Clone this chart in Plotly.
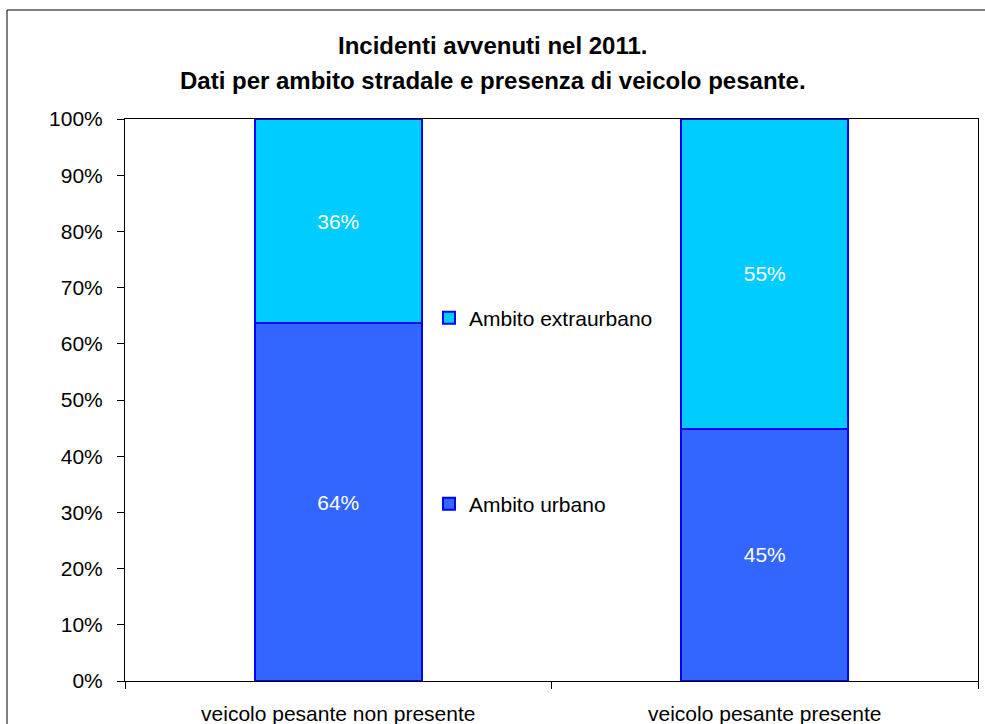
import plotly.graph_objects as go

categories = ["veicolo pesante non presente", "veicolo pesante presente"]
urbano = [63.65, 44.9]
extraurbano = [36.35, 55.1]
series_names = ["Ambito urbano", "Ambito extraurbano"]
y_ticks = list(range(0, 101, 10))
y_tick_labels = ["%d%%" % v for v in y_ticks]
title_lines = ["Incidenti avvenuti nel 2011.", "Dati per ambito stradale e presenza di veicolo pesante."]

FONT = "Liberation Sans, Arial, sans-serif"
W, H = 985, 724
L, R, T, B = 125, 7, 119, 43
pw, ph = W - L - R, H - T - B

def px(x):
    return (x - L) / pw

def py(y):
    return (H - B - y) / ph

fig = go.Figure()
fig.add_trace(go.Bar(
    x=categories, y=urbano, name=series_names[0],
    marker=dict(color="#3366FF", line=dict(color="#0000FF", width=2)),
    texttemplate="%{y:.0f}%", textposition="inside", insidetextanchor="middle",
    textangle=0, textfont=dict(color="white", size=21, family=FONT),
    legend="legend2", hoverinfo="skip",
))
fig.add_trace(go.Bar(
    x=categories, y=extraurbano, name=series_names[1],
    marker=dict(color="#00CCFF", line=dict(color="#0000FF", width=2)),
    texttemplate="%{y:.0f}%", textposition="inside", insidetextanchor="middle",
    textangle=0, textfont=dict(color="white", size=21, family=FONT),
    legend="legend", hoverinfo="skip",
))

fig.update_layout(
    width=W, height=H,
    margin=dict(l=L, r=R, t=T, b=B, pad=0, autoexpand=False),
    paper_bgcolor="white", plot_bgcolor="white",
    barmode="stack", bargap=0.608,
    font=dict(family=FONT, size=21, color="black"),
    legend=dict(x=px(429), y=py(318), xanchor="left", yanchor="middle",
                bgcolor="rgba(0,0,0,0)", font=dict(size=21, family=FONT)),
    legend2=dict(x=px(429), y=py(504), xanchor="left", yanchor="middle",
                 bgcolor="rgba(0,0,0,0)", font=dict(size=21, family=FONT)),
    showlegend=True,
)

fig.update_yaxes(
    range=[0, 100], tickmode="array", tickvals=y_ticks, ticktext=y_tick_labels,
    showgrid=False, zeroline=False, automargin=False,
    showline=True, linecolor="black", linewidth=1, mirror=True,
    ticks="outside", ticklen=7, tickcolor="black", tickwidth=1,
    ticklabelstandoff=10,
    tickfont=dict(size=21, family=FONT, color="black"),
)
fig.update_xaxes(
    showgrid=False, zeroline=False, automargin=False,
    showline=True, linecolor="black", linewidth=1, mirror=True,
    ticks="outside", ticklen=7, tickcolor="black", tickson="boundaries",
    ticklabelstandoff=14,
    tickfont=dict(size=21, family=FONT, color="black"),
)

# outer chart border
fig.add_shape(type="rect", xref="paper", yref="paper",
              x0=px(7), x1=px(1100), y0=py(10), y1=py(800),
              line=dict(color="black", width=1), fillcolor="rgba(0,0,0,0)", layer="below")

# title lines
fig.add_annotation(text="<b>%s</b>" % title_lines[0], xref="paper", yref="paper",
                   x=px(492.5), y=py(46), xanchor="center", yanchor="middle",
                   showarrow=False, font=dict(size=24, family=FONT, color="black"))
fig.add_annotation(text="<b>%s</b>" % title_lines[1], xref="paper", yref="paper",
                   x=px(492.5), y=py(80), xanchor="center", yanchor="middle",
                   showarrow=False, font=dict(size=24, family=FONT, color="black"))

fig.write_html("out.html",
               config={"displayModeBar": False},
               post_script="document.body.style.margin='0';document.body.style.overflow='hidden';")
